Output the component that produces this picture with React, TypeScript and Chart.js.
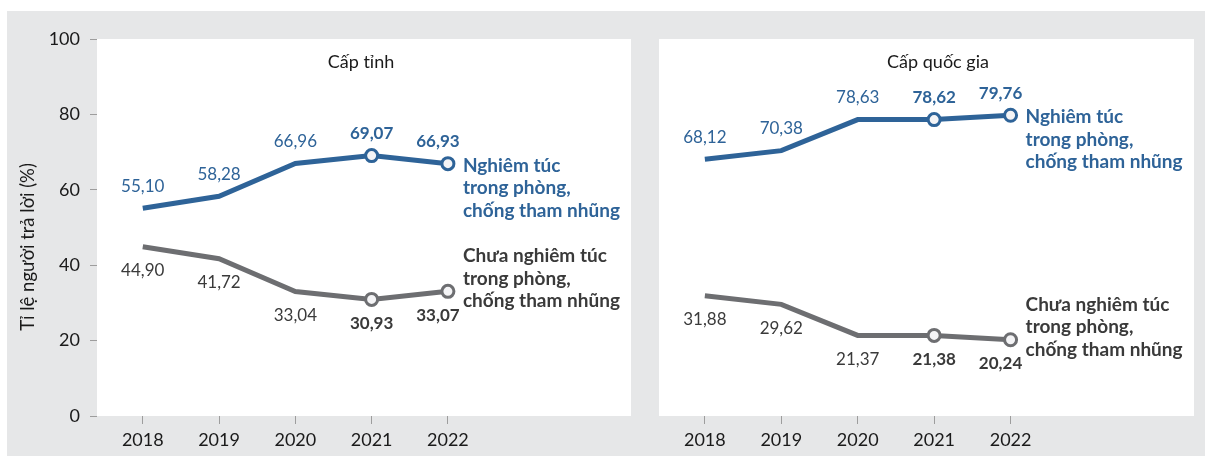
import React, { useEffect, useRef } from 'react';
import { Chart, registerables } from 'chart.js';

Chart.register(...registerables);

const years = [2018, 2019, 2020, 2021, 2022];
const yTickValues = [0, 20, 40, 60, 80, 100];
const provSerious = [55.1, 58.28, 66.96, 69.07, 66.93];
const provNotSerious = [44.9, 41.72, 33.04, 30.93, 33.07];
const natSerious = [68.12, 70.38, 78.63, 78.62, 79.76];
const natNotSerious = [31.88, 29.62, 21.37, 21.38, 20.24];
const seriousName = ['Nghiêm túc', 'trong phòng,', 'chống tham nhũng'];
const notSeriousName = ['Chưa nghiêm túc', 'trong phòng,', 'chống tham nhũng'];
const panelTitles = ['Cấp tỉnh', 'Cấp quốc gia'];
const yTitle = 'Tỉ lệ người trả lời (%)';

const BLUE = '#2e6398';
const GRAY = '#6d6e71';
const DARK = '#3a3a3a';
const TEXT = '#1a1a1a';
const FONT = 'Lato';

const fmt = (v: number) => v.toFixed(2).replace('.', ',');

const annotPlugin = {
  id: 'annot',
  beforeDraw(chart: any) {
    const { ctx, chartArea: a } = chart;
    ctx.save();
    ctx.fillStyle = '#ffffff';
    ctx.fillRect(a.left, a.top, a.right - a.left, a.bottom - a.top);
    ctx.restore();
  },
  afterDatasetsDraw(chart: any) {
    const opts = chart.options.plugins.annot;
    const ctx = chart.ctx;
    ctx.save();
    chart.data.datasets.forEach((ds: any, di: number) => {
      const pts = chart.getDatasetMeta(di).data;
      ds.data.forEach((pt: any, i: number) => {
        const p = pts[i];
        const bold = i >= 3;
        ctx.font = `${bold ? 'bold ' : ''}17px ${FONT}`;
        ctx.fillStyle = ds.valueColor;
        ctx.textAlign = 'center';
        ctx.textBaseline = 'middle';
        const dx = i === ds.data.length - 1 ? -10 : 0;
        ctx.fillText(fmt(pt.y), p.x + dx, p.y + ds.labelOffset);
      });
      const last = pts[pts.length - 1];
      ctx.font = `bold 19px ${FONT}`;
      ctx.textAlign = 'left';
      ctx.textBaseline = 'middle';
      ctx.fillStyle = ds.nameColor;
      ds.nameLines.forEach((t: string, k: number) => {
        ctx.fillText(t, last.x + 15, last.y + ds.nameOffset + k * 22.5);
      });
    });
    ctx.font = `18px ${FONT}`;
    ctx.fillStyle = TEXT;
    ctx.textAlign = 'center';
    ctx.textBaseline = 'middle';
    ctx.fillText(opts.title, opts.titleX, 62);
    if (opts.yTitle) {
      ctx.translate(opts.yTitleX, opts.yTitleY);
      ctx.rotate(-Math.PI / 2);
      ctx.font = `18.5px ${FONT}`;
      ctx.fillText(opts.yTitle, 0, 0);
    }
    ctx.restore();
  },
};

function makeDataset(values: number[], color: string, valueColor: string, nameLines: string[], labelOffset: number, nameOffset: number) {
  return {
    data: values.map((v, i) => ({ x: years[i], y: v })),
    borderColor: color,
    backgroundColor: color,
    borderWidth: 5,
    borderJoinStyle: 'miter',
    tension: 0,
    pointRadius: values.map((_, i) => (i >= 3 ? 6 : 0)),
    pointHoverRadius: values.map((_, i) => (i >= 3 ? 6 : 0)),
    pointBorderWidth: 3,
    pointBorderColor: color,
    pointBackgroundColor: '#f4f4f6',
    valueColor,
    nameColor: valueColor === BLUE ? BLUE : DARK,
    nameLines,
    labelOffset,
    nameOffset,
  };
}

function buildConfig(serious: number[], notSerious: number[], showY: boolean, title: string, titleX: number, padLeft: number, padRight: number): any {
  return {
    type: 'line',
    data: {
      datasets: [
        makeDataset(serious, BLUE, BLUE, seriousName, -22, 2),
        makeDataset(notSerious, GRAY, DARK, notSeriousName, 24, -35),
      ],
    },
    plugins: [annotPlugin],
    options: {
      responsive: false,
      animation: false,
      devicePixelRatio: 1,
      layout: { padding: { left: padLeft, right: padRight, top: 39, bottom: 0 } },
      plugins: {
        legend: { display: false },
        tooltip: { enabled: false },
        annot: showY
          ? { title, titleX, yTitle, yTitleX: 28, yTitleY: 247 }
          : { title, titleX },
      },
      scales: {
        x: {
          type: 'linear',
          min: 2017.4,
          max: 2024.4,
          afterBuildTicks: (s: any) => {
            s.ticks = years.map((v) => ({ value: v }));
          },
          afterFit: (s: any) => {
            s.height = 40;
          },
          grid: { drawOnChartArea: false, drawTicks: true, tickLength: 8, color: '#9d9d9d', lineWidth: 1 },
          border: { display: false },
          ticks: {
            autoSkip: false,
            maxRotation: 0,
            padding: 5,
            color: TEXT,
            font: { family: FONT, size: 18 },
            callback: (v: any) => String(v),
          },
        },
        y: {
          display: showY,
          min: 0,
          max: 100,
          afterBuildTicks: (s: any) => {
            s.ticks = yTickValues.map((v) => ({ value: v }));
          },
          afterFit: (s: any) => {
            if (showY) s.width = 97;
          },
          grid: { drawOnChartArea: false, drawTicks: true, tickLength: 7, color: '#9d9d9d', lineWidth: 1 },
          border: { display: false },
          ticks: {
            padding: 10,
            color: TEXT,
            font: { family: FONT, size: 18 },
            callback: (v: any) => String(v),
          },
        },
      },
    },
  };
}

function Panel(props: { left: number; width: number; cfg: any }) {
  const ref = useRef<HTMLCanvasElement>(null);
  useEffect(() => {
    if (!ref.current) return;
    const chart = new Chart(ref.current, props.cfg);
    return () => chart.destroy();
  }, []);
  return (
    <canvas
      ref={ref}
      width={props.width}
      height={456}
      style={{ position: 'absolute', left: props.left, top: 0, width: props.width, height: 456 }}
    />
  );
}

export default function App() {
  const leftCfg = buildConfig(provSerious, provNotSerious, true, panelTitles[0], 361, 0, 7);
  const rightCfg = buildConfig(natSerious, natNotSerious, false, panelTitles[1], 288, 7, 11);
  return (
    <div style={{ position: 'absolute', left: 0, top: 0, width: 1205, height: 456, background: '#ffffff', overflow: 'hidden' }}>
      <div style={{ position: 'absolute', left: 7, top: 11, width: 1198, height: 445, background: '#e6e7e8' }} />
      <Panel left={0} width={640} cfg={leftCfg} />
      <Panel left={650} width={555} cfg={rightCfg} />
    </div>
  );
}
